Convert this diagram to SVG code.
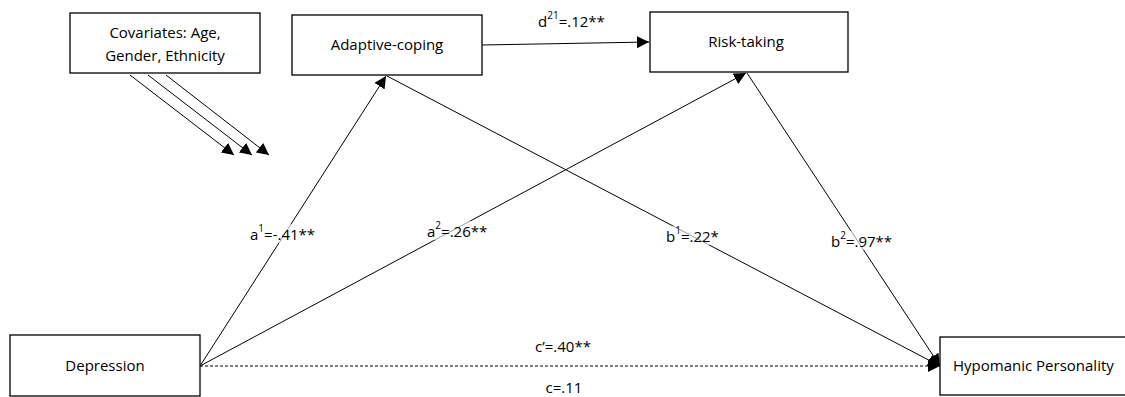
<svg xmlns="http://www.w3.org/2000/svg" width="1125" height="397" viewBox="0 0 1125 397">
<style>
.box{fill:#fff;stroke:#000;stroke-width:1.3}
.t{font-family:"Open Sans","Noto Sans","Liberation Sans",sans-serif;font-size:15px;fill:#000}
.ln{stroke:#000;stroke-width:1;fill:none}
.sup{font-size:10px}
.bg{fill:#fff;opacity:0.6}
</style>
<defs>
<marker id="ah" viewBox="0 0 10 10" refX="10" refY="5" markerWidth="12" markerHeight="12" markerUnits="userSpaceOnUse" orient="auto">
<path d="M0,0 L10,5 L0,10 Z" fill="#000"/>
</marker>
</defs>
<rect x="0" y="0" width="1125" height="397" fill="#fff"/>
<g id="connectors">
<line class="ln" x1="130" y1="75" x2="234" y2="155" marker-end="url(#ah)"/>
<line class="ln" x1="148" y1="75" x2="252" y2="155" marker-end="url(#ah)"/>
<line class="ln" x1="166" y1="75" x2="269" y2="155" marker-end="url(#ah)"/>
<line class="ln" x1="482" y1="45" x2="649" y2="42" marker-end="url(#ah)"/>
<line class="ln" x1="200" y1="366" x2="386" y2="76" marker-end="url(#ah)"/>
<line class="ln" x1="200" y1="366" x2="746" y2="73" marker-end="url(#ah)"/>
<line class="ln" x1="387" y1="76" x2="940" y2="366" marker-end="url(#ah)"/>
<line class="ln" x1="747" y1="73" x2="940" y2="366" marker-end="url(#ah)"/>
<line class="ln" x1="200" y1="366" x2="940" y2="366" stroke-dasharray="3,2" marker-end="url(#ah)"/>
</g>
<g id="labels">
<rect class="bg" x="248" y="224" width="78" height="19"/>
<rect class="bg" x="425" y="221" width="72" height="19"/>
<rect class="bg" x="664" y="226" width="60" height="19"/>
<rect class="bg" x="829" y="231" width="70" height="19"/>
<text class="t" x="250" y="240">a<tspan class="sup" dy="-8">1</tspan><tspan dy="8">=-.41**</tspan></text>
<text class="t" x="427" y="237">a<tspan class="sup" dy="-8">2</tspan><tspan dy="8">=.26**</tspan></text>
<text class="t" x="666" y="242">b<tspan class="sup" dy="-8">1</tspan><tspan dy="8">=.22*</tspan></text>
<text class="t" x="831" y="247">b<tspan class="sup" dy="-8">2</tspan><tspan dy="8">=.97**</tspan></text>
<text class="t" x="538" y="27">d<tspan class="sup" dy="-8">21</tspan><tspan dy="8">=.12**</tspan></text>
<text class="t" x="563" y="352" text-anchor="middle">c’=.40**</text>
<text class="t" x="564" y="393" text-anchor="middle">c=.11</text>
</g>
<g id="node-covariates">
<rect class="box" x="70" y="13" width="190" height="60"/>
<text class="t" x="165" y="38" text-anchor="middle">Covariates: Age,</text>
<text class="t" x="165" y="61" text-anchor="middle">Gender, Ethnicity</text>
</g>
<g id="node-adaptive">
<rect class="box" x="292" y="15" width="190" height="60"/>
<text class="t" x="387" y="50" text-anchor="middle">Adaptive-coping</text>
</g>
<g id="node-risk">
<rect class="box" x="650" y="12" width="198" height="60"/>
<text class="t" x="746" y="47" text-anchor="middle">Risk-taking</text>
</g>
<g id="node-depression">
<rect class="box" x="10" y="335" width="190" height="61"/>
<text class="t" x="105" y="371" text-anchor="middle">Depression</text>
</g>
<g id="node-hypomanic">
<rect class="box" x="940" y="337" width="200" height="58"/>
<text class="t" x="953" y="371">Hypomanic Personality</text>
</g>
</svg>
